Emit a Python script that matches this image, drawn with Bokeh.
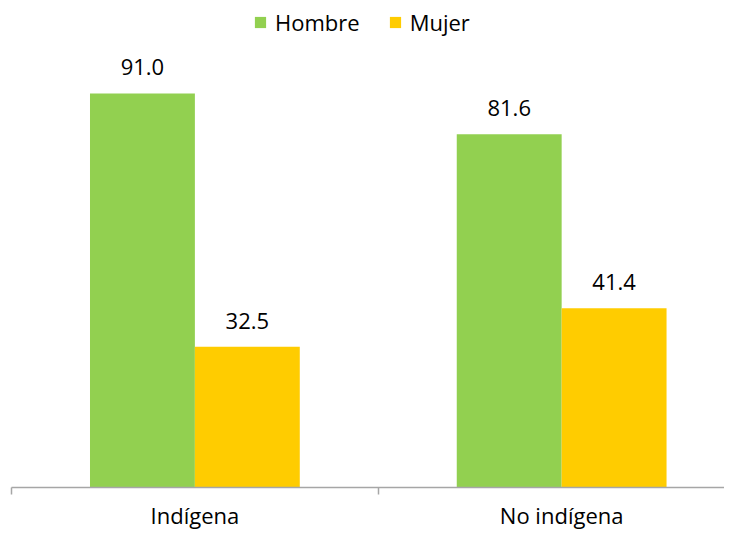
from bokeh.plotting import figure
from bokeh.models import ColumnDataSource, FixedTicker, Legend, LegendItem, Range1d
from bokeh.transform import dodge
from bokeh.core.properties import value
from bokeh.embed import file_html
from bokeh.resources import INLINE

# ---- data ----
categorias = ["Indígena", "No indígena"]
hombre = [91.0, 81.6]
mujer = [32.5, 41.4]
series = ["Hombre", "Mujer"]
colores = ["#92D050", "#FFCC00"]

xpos = [i + 0.5 for i in range(len(categorias))]
src = ColumnDataSource(dict(
    x=xpos,
    hombre=hombre,
    mujer=mujer,
    hombre_txt=[f"{v:.1f}" for v in hombre],
    mujer_txt=[f"{v:.1f}" for v in mujer],
))

FONT = "Open Sans"
BAR_W = 0.286
OFF = 0.143

p = figure(width=724, height=532, output_backend="svg", toolbar_location=None,
           x_range=Range1d(0, 1.944), y_range=Range1d(0, 112.47),
           y_axis_location=None,
           min_border_left=11, min_border_right=0, min_border_top=0, min_border_bottom=45)
p.outline_line_color = None
p.xgrid.visible = False
p.ygrid.visible = False
p.background_fill_color = "white"
p.border_fill_color = "white"

r1 = p.vbar(x=dodge("x", -OFF), top="hombre", width=BAR_W, source=src,
            fill_color=colores[0], line_color=None)
r2 = p.vbar(x=dodge("x", OFF), top="mujer", width=BAR_W, source=src,
            fill_color=colores[1], line_color=None)

p.text(x=dodge("x", -OFF), y="hombre", text="hombre_txt", source=src,
       text_align="center", text_baseline="alphabetic", y_offset=-26,
       text_font=value(FONT), text_font_size="22px", text_color="#000000")
p.text(x=dodge("x", OFF), y="mujer", text="mujer_txt", source=src,
       text_align="center", text_baseline="alphabetic", y_offset=-26,
       text_font=value(FONT), text_font_size="22px", text_color="#000000")

ax = p.xaxis[0]
ax.ticker = FixedTicker(ticks=xpos, minor_ticks=[0, 1, 2])
ax.major_label_overrides = {x: c for x, c in zip(xpos, categorias)}
ax.major_tick_line_color = None
ax.major_tick_out = 0
ax.major_tick_in = 0
ax.minor_tick_line_color = "#A6A6A6"
ax.minor_tick_line_width = 1.5
ax.minor_tick_out = 7
ax.minor_tick_in = 0
ax.axis_line_color = "#A6A6A6"
ax.axis_line_width = 1.5
ax.major_label_standoff = 5
ax.major_label_text_font = FONT
ax.major_label_text_font_size = "22px"
ax.major_label_text_color = "#000000"

legend = Legend(items=[LegendItem(label=series[0], renderers=[r1]),
                       LegendItem(label=series[1], renderers=[r2])],
                orientation="horizontal", location=(242, 450),
                glyph_width=14, glyph_height=14, label_standoff=8, spacing=28,
                padding=0, margin=0, border_line_color=None,
                background_fill_alpha=0,
                label_text_font=FONT, label_text_font_size="22px",
                label_text_color="#000000")
p.add_layout(legend)

open("out.html", "w").write(file_html(p, INLINE))
